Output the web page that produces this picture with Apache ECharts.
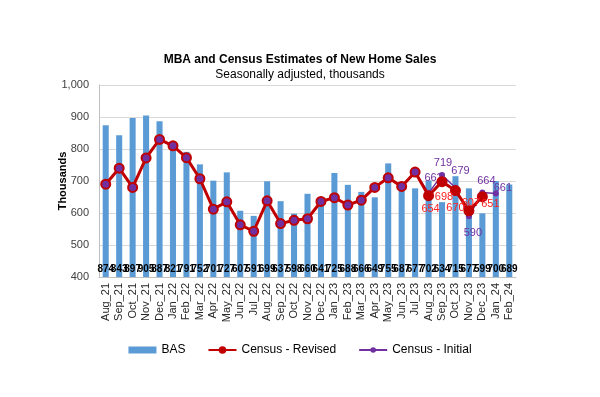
<!DOCTYPE html>
<html><head><meta charset="utf-8">
<script src="https://cdn.jsdelivr.net/npm/echarts@6/dist/echarts.min.js"></script>
<style>html,body{margin:0;padding:0;background:#fff}#c{width:600px;height:397px}</style>
</head><body><div id="c"></div>
<script>
var categories = ["Aug_21","Sep_21","Oct_21","Nov_21","Dec_21","Jan_22","Feb_22","Mar_22","Apr_22","May_22","Jun_22","Jul_22","Aug_22","Sep_22","Oct_22","Nov_22","Dec_22","Jan_23","Feb_23","Mar_23","Apr_23","May_23","Jun_23","Jul_23","Aug_23","Sep_23","Oct_23","Nov_23","Dec_23","Jan_24","Feb_24"];
var bas = [874,843,897,905,887,821,791,752,701,727,607,591,699,637,598,660,641,725,688,666,649,755,687,677,702,634,715,677,599,700,689];
var revised = [690,740,680,772,830,810,773,707,612,635,563,543,638,567,577,582,636,648,625,640,680,710,683,728,654,698,670,607,651,null,null];
var initial = [690,740,680,772,830,810,773,707,612,635,563,543,638,567,577,582,636,648,625,640,680,710,683,728,662,719,679,590,664,661,null];

var revLabelOff = {24:[2,13],25:[2,15],26:[0,17],27:[2,-8],28:[8,7]};
var iniLabelOff = {24:[5,-15],25:[1,-12],26:[5,-17],27:[4,17],28:[4,-12],29:[7,-6]};

function mkData(arr, offMap, color, ownMarker){
  return arr.map(function(v,i){
    if (v===null) return null;
    var o = {value:v};
    if (offMap[i]) {
      o.label = {show:true, position:'inside', offset:offMap[i], align:'center', verticalAlign:'middle',
        color:color, fontSize:11, fontFamily:'Liberation Sans, Arial'};
      if (ownMarker) o.itemStyle = {color:'#c00000', borderColor:'#c00000'};
    }
    return o;
  });
}

var chart = echarts.init(document.getElementById('c'));
chart.setOption({
  animation:false,
  title:[{text:'MBA and Census Estimates of New Home Sales', left:'center', top:49,
    textStyle:{fontSize:12, fontWeight:'bold', color:'#000', fontFamily:'Liberation Sans, Arial'}},
    {text:'Seasonally adjusted, thousands', left:'center', top:64,
    textStyle:{fontSize:12, fontWeight:'normal', color:'#000', fontFamily:'Liberation Sans, Arial'}}],
  grid:{left:99, right:84, top:85, bottom:120},
  legend:{bottom:36, left:'center', itemWidth:28, itemHeight:7, itemGap:22,
    textStyle:{fontSize:12, color:'#000', fontFamily:'Liberation Sans, Arial'},
    data:[{name:'BAS', icon:'rect', itemStyle:{color:'#5b9bd5'}},
          {name:'Census - Revised', itemStyle:{color:'#c00000', borderColor:'#c00000'}},
          {name:'Census - Initial'}]},
  xAxis:{type:'category', data:categories,
    axisLine:{lineStyle:{color:'#bfbfbf'}}, axisTick:{show:false},
    axisLabel:{rotate:90, interval:0, fontSize:11, color:'#262626', fontFamily:'Liberation Sans, Arial', margin:6}},
  yAxis:{type:'value', min:400, max:1000, interval:100,
    name:'Thousands', nameLocation:'middle', nameGap:31, nameRotate:90, nameMoveOverlap:false,
    nameTextStyle:{fontSize:11, fontWeight:'bold', color:'#000', fontFamily:'Liberation Sans, Arial'},
    axisLine:{show:true, lineStyle:{color:'#bfbfbf'}}, axisTick:{show:false},
    splitLine:{lineStyle:{color:'#d9d9d9'}},
    axisLabel:{fontSize:11, color:'#404040', fontFamily:'Liberation Sans, Arial', margin:10,
      formatter:function(v){return v>=1000? (v/1000)+','+String(v%1000).padStart(3,'0') : String(v);}}},
  series:[
    {name:'BAS', type:'bar', data:bas, barWidth:'45%', itemStyle:{color:'#5b9bd5'},
      label:{show:true, position:'insideBottom', distance:3, fontSize:10, fontWeight:'bold', color:'#000', fontFamily:'Liberation Sans, Arial'}},
    {name:'Census - Initial', type:'line', data:mkData(initial, iniLabelOff, '#7030a0', false), z:3,
      lineStyle:{color:'#7030a0', width:1.5}, itemStyle:{color:'#7030a0'},
      symbol:'circle', symbolSize:6, label:{show:false}},
    {name:'Census - Revised', type:'line', data:mkData(revised, revLabelOff, '#ff2020', true), z:4,
      lineStyle:{color:'#c00000', width:3}, itemStyle:{color:'#7030a0', borderColor:'#c00000', borderWidth:2},
      symbol:'circle', symbolSize:9, label:{show:false}}
  ]
});
</script></body></html>
